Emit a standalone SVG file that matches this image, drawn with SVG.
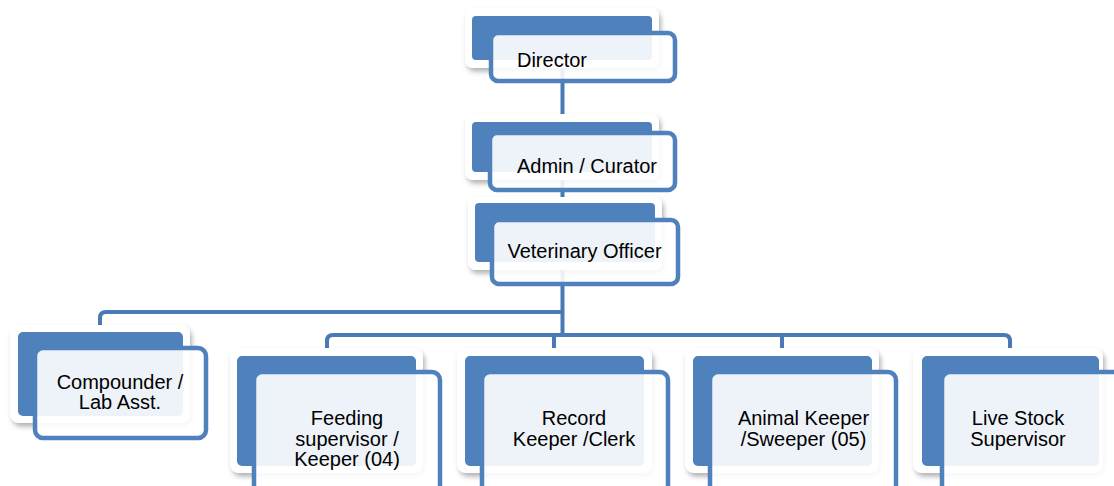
<svg xmlns="http://www.w3.org/2000/svg" width="1114" height="486" viewBox="0 0 1114 486">
<defs>
<filter id="sh" x="-10%" y="-10%" width="125%" height="130%">
<feDropShadow dx="2" dy="3.5" stdDeviation="2.5" flood-color="#000" flood-opacity="0.3"/>
</filter>
<style>
.card{fill:#fff;filter:url(#sh)}
.blue{fill:#4F81BD}
.front{fill:#fff;fill-opacity:0.9;stroke:#4F81BD;stroke-width:4.5}
.ln{fill:none;stroke:#4A7AB5;stroke-width:4}
text{font-family:"Liberation Sans",Arial,sans-serif;font-size:20px;fill:#000;text-anchor:middle}
</style>
</defs>
<rect width="1114" height="486" fill="#fff"/>
<g id="connectors">
<path class="ln" d="M562.5,66 V335"/>
<path class="ln" d="M100,328 V318 Q100,312 106,312 H562.5"/>
<path class="ln" d="M327,350 V341 Q327,335 333,335 H1004 Q1010,335 1010,341 V350"/>
<path class="ln" d="M554,335 V350"/>
<path class="ln" d="M782,335 V350"/>
</g>
<g id="director">
<rect class="card" x="465" y="8" width="194" height="60" rx="8"/>
<rect class="blue" x="472" y="16" width="180" height="44" rx="4"/>
<rect class="front" x="491" y="33" width="184" height="48" rx="7"/>
<text x="552" y="67">Director</text>
</g>
<g id="admin">
<rect class="card" x="465" y="114" width="194" height="66" rx="8"/>
<rect class="blue" x="472" y="122" width="180" height="50" rx="4"/>
<rect class="front" x="490" y="133" width="185" height="57" rx="7"/>
<text x="587" y="173">Admin / Curator</text>
</g>
<g id="vet">
<rect class="card" x="468" y="197" width="194" height="73" rx="8"/>
<rect class="blue" x="475" y="203" width="180" height="59" rx="4"/>
<rect class="front" x="492" y="220" width="186" height="64" rx="7"/>
<text x="584.5" y="258">Veterinary Officer</text>
</g>
<g id="compounder">
<rect class="card" x="10" y="325" width="180" height="98" rx="9"/>
<rect class="blue" x="18" y="332" width="165" height="84" rx="5"/>
<rect class="front" x="35" y="348" width="171" height="90" rx="8"/>
<text x="120" y="388.5">Compounder /</text>
<text x="120" y="409">Lab Asst.</text>
</g>
<g id="feeding">
<rect class="card" x="230" y="348" width="193" height="125" rx="9"/>
<rect class="blue" x="237" y="356" width="179" height="110" rx="5"/>
<rect class="front" x="254" y="372" width="186" height="122" rx="8"/>
<text x="347" y="425">Feeding</text>
<text x="347" y="445.5">supervisor /</text>
<text x="347" y="466">Keeper (04)</text>
</g>
<g id="record">
<rect class="card" x="457" y="348" width="195" height="125" rx="9"/>
<rect class="blue" x="465" y="356" width="179" height="110" rx="5"/>
<rect class="front" x="482" y="372" width="186" height="122" rx="8"/>
<text x="574" y="425">Record</text>
<text x="574" y="445.5">Keeper /Clerk</text>
</g>
<g id="animal">
<rect class="card" x="685" y="348" width="194" height="125" rx="9"/>
<rect class="blue" x="693" y="356" width="179" height="110" rx="5"/>
<rect class="front" x="710" y="372" width="186" height="122" rx="8"/>
<text x="803.5" y="425">Animal Keeper</text>
<text x="803.5" y="445.5">/Sweeper (05)</text>
</g>
<g id="livestock">
<rect class="card" x="913" y="348" width="190" height="125" rx="9"/>
<rect class="blue" x="922" y="356" width="177" height="110" rx="5"/>
<rect class="front" x="942" y="372" width="186" height="122" rx="8"/>
<text x="1018" y="425">Live Stock</text>
<text x="1018" y="445.5">Supervisor</text>
</g>
</svg>
